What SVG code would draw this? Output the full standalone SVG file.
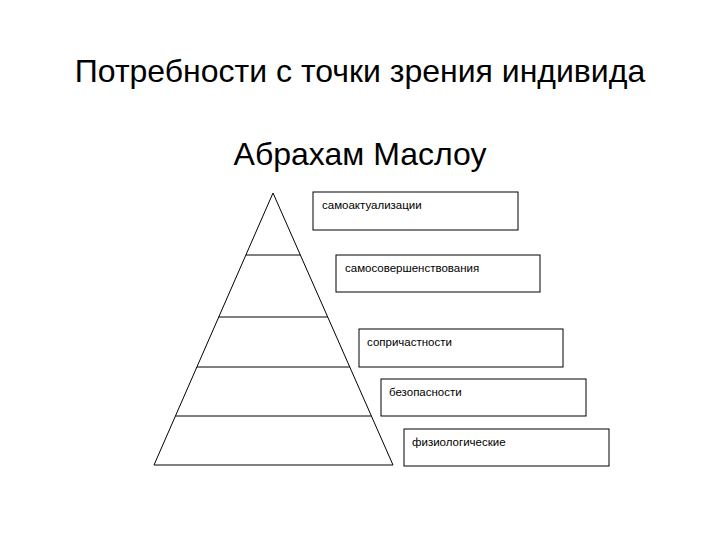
<svg xmlns="http://www.w3.org/2000/svg" width="720" height="540" viewBox="0 0 720 540">
<style>
.t{font-family:"Liberation Sans",Arial,sans-serif;fill:#000}
.h{font-size:32px;text-anchor:middle}
.s{font-size:11.5px}
.b{fill:#fff;stroke:#000;stroke-width:1}
.l{stroke:#000;stroke-width:1;fill:none}
</style>
<rect width="720" height="540" fill="#fff"/>
<text class="t h" x="360" y="82">Потребности с точки зрения индивида</text>
<text class="t h" x="360" y="165">Абрахам Маслоу</text>
<g id="pyramid">
<polygon class="l" points="273,193 154,465 393,465"/>
<line class="l" x1="245.9" y1="255" x2="300.4" y2="255"/>
<line class="l" x1="218.8" y1="317" x2="327.7" y2="317"/>
<line class="l" x1="196.9" y1="367" x2="349.8" y2="367"/>
<line class="l" x1="175.5" y1="416" x2="371.4" y2="416"/>
</g>
<g id="connectors"></g>
<g id="n1"><rect class="b" x="313" y="192" width="205" height="38"/><text class="t s" x="322" y="209">самоактуализации</text></g>
<g id="n2"><rect class="b" x="336" y="255" width="204" height="37"/><text class="t s" x="345" y="272">самосовершенствования</text></g>
<g id="n3"><rect class="b" x="359" y="329" width="204" height="38"/><text class="t s" x="367" y="346">сопричастности</text></g>
<g id="n4"><rect class="b" x="381" y="379" width="205" height="37"/><text class="t s" x="389" y="396">безопасности</text></g>
<g id="n5"><rect class="b" x="404" y="429" width="205" height="37"/><text class="t s" x="412" y="446">физиологические</text></g>
</svg>
